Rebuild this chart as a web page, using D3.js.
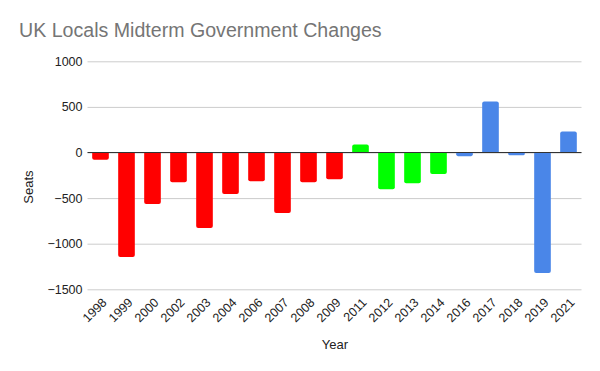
<!DOCTYPE html>
<html>
<head>
<meta charset="utf-8">
<script src="https://cdn.jsdelivr.net/npm/d3@7"></script>
<style>
  body { margin: 0; background: #fff; }
  text { font-family: "Liberation Sans", Arial, sans-serif; }
</style>
</head>
<body>
<svg id="chart" width="600" height="371"></svg>
<script>
// data
var years = ["1998", "1999", "2000", "2002", "2003", "2004", "2006", "2007", "2008", "2009",
             "2011", "2012", "2013", "2014", "2016", "2017", "2018", "2019", "2021"];
var seats = [-80, -1146, -566, -325, -829, -456, -314, -664, -325, -292,
             88, -402, -336, -237, -40, 558, -29, -1321, 230];
var govt = ["lab", "lab", "lab", "lab", "lab", "lab", "lab", "lab", "lab", "lab",
            "coal", "coal", "coal", "coal", "con", "con", "con", "con", "con"];
var yTicks = [-1500, -1000, -500, 0, 500, 1000];

var colours = { lab: "#ff0000", coal: "#00ff00", con: "#4a86e8" };

var svg = d3.select("#chart");
var margin = { top: 61.3, right: 18.5, bottom: 81.7, left: 87.5 };
var width = 600 - margin.left - margin.right,
    height = 371 - margin.top - margin.bottom;

var x = d3.scaleBand().domain(years).range([0, width]).paddingInner(0.36).paddingOuter(0.18);
var y = d3.scaleLinear().domain([-1500, 1000]).range([height, 0]);

var g = svg.append("g").attr("transform", "translate(" + margin.left + "," + margin.top + ")");

// title
svg.append("text")
    .attr("x", 19).attr("y", 37)
    .attr("fill", "#757575")
    .style("font-size", "19.6px")
    .text("UK Locals Midterm Government Changes");

// gridlines + y labels
var yAxis = d3.axisLeft(y).tickValues(yTicks).tickFormat(d3.format("d")).tickSize(-width).tickPadding(5);
var ya = g.append("g").call(yAxis);
ya.select(".domain").remove();
ya.selectAll(".tick line").attr("stroke", "#cccccc");
ya.selectAll(".tick text").attr("fill", "#222").style("font-size", "12.5px");

// bars, rounded at the far end
function barPath(d, i) {
    var x0 = x(years[i]), w = x.bandwidth();
    var y0 = y(0), y1 = y(d);
    var r = Math.min(2, Math.abs(y1 - y0) / 2);
    var s = y1 < y0 ? 1 : -1;
    return "M" + x0 + "," + y0 +
        "V" + (y1 + s * r) +
        "Q" + x0 + "," + y1 + " " + (x0 + r) + "," + y1 +
        "H" + (x0 + w - r) +
        "Q" + (x0 + w) + "," + y1 + " " + (x0 + w) + "," + (y1 + s * r) +
        "V" + y0 + "Z";
}
g.selectAll("path.bar").data(seats).enter().append("path")
    .attr("class", "bar")
    .attr("d", barPath)
    .attr("fill", function(d, i) { return colours[govt[i]]; });

// zero line
g.append("line")
    .attr("x1", 0).attr("x2", width)
    .attr("y1", y(0)).attr("y2", y(0))
    .attr("stroke", "#333").attr("stroke-width", 1);

// x labels
var xa = g.append("g").attr("transform", "translate(0," + height + ")")
    .call(d3.axisBottom(x).tickSize(0).tickPadding(0));
xa.select(".domain").remove();
xa.selectAll(".tick text")
    .attr("fill", "#222")
    .style("font-size", "12.5px")
    .attr("text-anchor", "end")
    .attr("dy", null).attr("y", 0)
    .attr("transform", "translate(7,14) rotate(-45)");

// axis titles
svg.append("text")
    .attr("x", 335).attr("y", 349)
    .attr("text-anchor", "middle")
    .attr("fill", "#222").style("font-size", "13px")
    .text("Year");
svg.append("text")
    .attr("transform", "translate(33,187) rotate(-90)")
    .attr("text-anchor", "middle")
    .attr("fill", "#222").style("font-size", "13px")
    .text("Seats");
</script>
</body>
</html>
